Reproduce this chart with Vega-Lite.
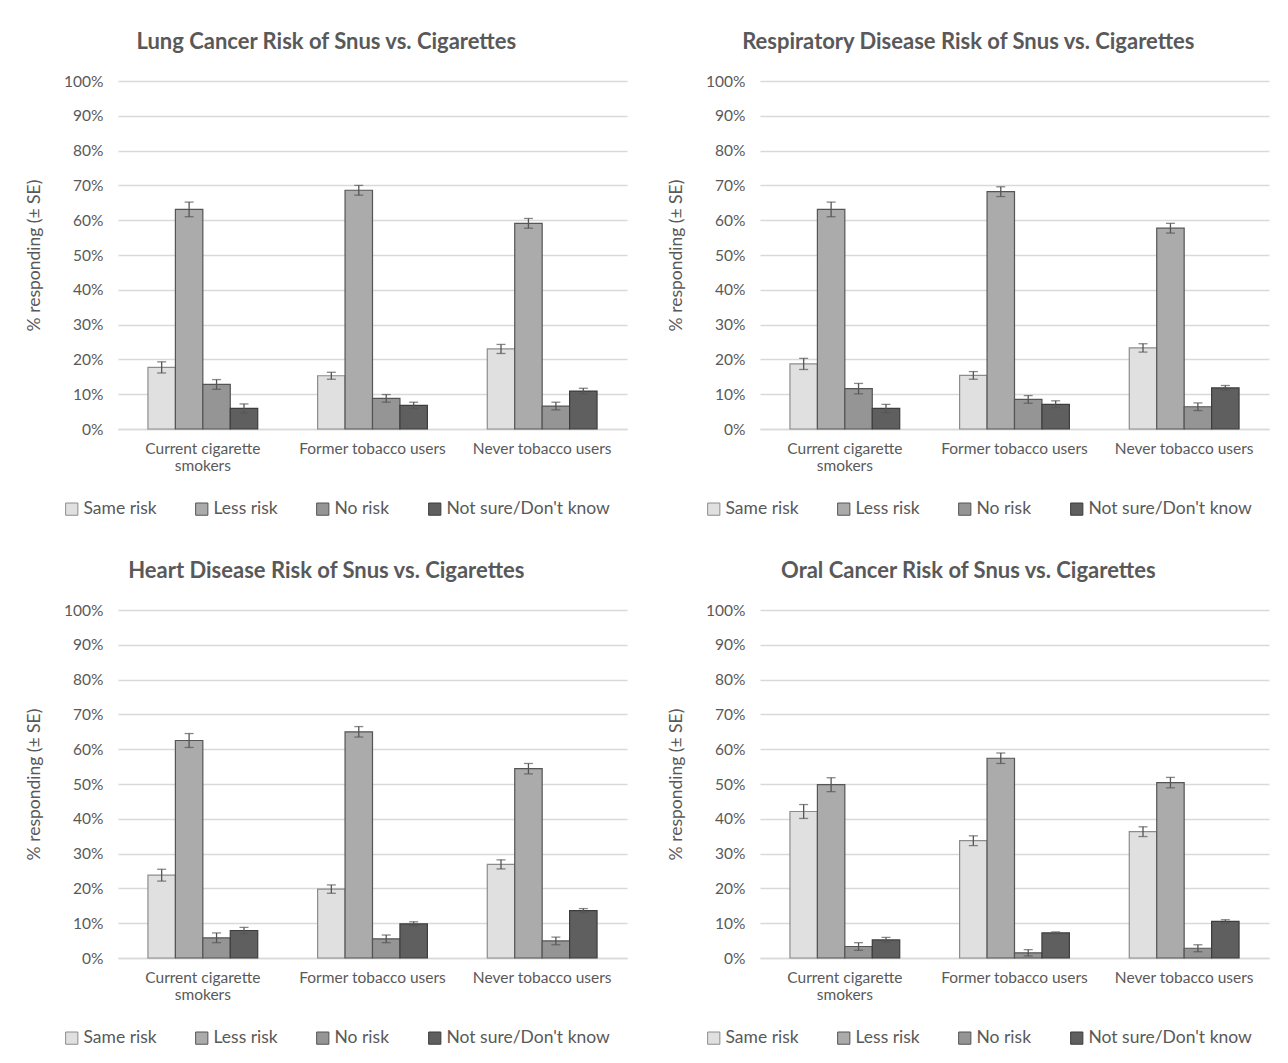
{
  "$schema": "https://vega.github.io/schema/vega-lite/v6.json",
  "background": "white",
  "padding": {"left": 25, "top": 31, "right": 10, "bottom": 10},
  "config": {
    "font": "Lato",
    "view": {"stroke": null},
    "title": {"fontSize": 22, "fontWeight": "bold", "color": "#595959", "anchor": "middle", "frame": "bounds", "offset": 20},
    "axis": {"labelFont": "Lato", "titleFont": "Lato", "labelColor": "#595959", "titleColor": "#595959", "labelFontSize": 15.5, "titleFontSize": 17.5, "titleFontWeight": "normal", "ticks": false},
    "axisY": {"grid": true, "gridColor": "#d9d9d9", "gridWidth": 1.3, "domain": false, "labelPadding": 15, "titlePadding": 20, "values": [0,10,20,30,40,50,60,70,80,90,100], "labelExpr": "datum.value + '%'", "labelOverlap": false},
    "axisX": {"grid": false, "domainColor": "#d9d9d9", "domainWidth": 1.3, "labelPadding": 12, "labelAngle": 0},
    "legend": {"orient": "none", "direction": "horizontal", "columns": 4, "legendX": -55, "legendY": 419, "symbolType": "square", "symbolSize": 150, "symbolStrokeWidth": 1, "labelFontSize": 17.5, "labelColor": "#595959", "labelFont": "Lato", "labelLimit": 400, "columnPadding": 36, "labelOffset": 3, "title": null}
  },
  "data": {"values": [
    {"p":"Lung","g":"Current cigarette smokers","r":"Same risk","v":17.7,"lo":16.1,"hi":19.3},
    {"p":"Lung","g":"Current cigarette smokers","r":"Less risk","v":63.1,"lo":61.0,"hi":65.2},
    {"p":"Lung","g":"Current cigarette smokers","r":"No risk","v":12.8,"lo":11.4,"hi":14.2},
    {"p":"Lung","g":"Current cigarette smokers","r":"Not sure/Don't know","v":5.9,"lo":4.6,"hi":7.2},
    {"p":"Lung","g":"Former tobacco users","r":"Same risk","v":15.3,"lo":14.3,"hi":16.3},
    {"p":"Lung","g":"Former tobacco users","r":"Less risk","v":68.6,"lo":67.2,"hi":70.0},
    {"p":"Lung","g":"Former tobacco users","r":"No risk","v":8.8,"lo":7.7,"hi":9.9},
    {"p":"Lung","g":"Former tobacco users","r":"Not sure/Don't know","v":6.8,"lo":5.9,"hi":7.7},
    {"p":"Lung","g":"Never tobacco users","r":"Same risk","v":23.0,"lo":21.7,"hi":24.3},
    {"p":"Lung","g":"Never tobacco users","r":"Less risk","v":59.1,"lo":57.7,"hi":60.5},
    {"p":"Lung","g":"Never tobacco users","r":"No risk","v":6.6,"lo":5.5,"hi":7.7},
    {"p":"Lung","g":"Never tobacco users","r":"Not sure/Don't know","v":10.9,"lo":10.1,"hi":11.7},

    {"p":"Resp","g":"Current cigarette smokers","r":"Same risk","v":18.7,"lo":17.1,"hi":20.3},
    {"p":"Resp","g":"Current cigarette smokers","r":"Less risk","v":63.1,"lo":61.0,"hi":65.2},
    {"p":"Resp","g":"Current cigarette smokers","r":"No risk","v":11.6,"lo":10.1,"hi":13.1},
    {"p":"Resp","g":"Current cigarette smokers","r":"Not sure/Don't know","v":5.9,"lo":4.7,"hi":7.1},
    {"p":"Resp","g":"Former tobacco users","r":"Same risk","v":15.4,"lo":14.3,"hi":16.5},
    {"p":"Resp","g":"Former tobacco users","r":"Less risk","v":68.2,"lo":66.8,"hi":69.6},
    {"p":"Resp","g":"Former tobacco users","r":"No risk","v":8.5,"lo":7.4,"hi":9.6},
    {"p":"Resp","g":"Former tobacco users","r":"Not sure/Don't know","v":7.1,"lo":6.1,"hi":8.1},
    {"p":"Resp","g":"Never tobacco users","r":"Same risk","v":23.3,"lo":22.1,"hi":24.5},
    {"p":"Resp","g":"Never tobacco users","r":"Less risk","v":57.7,"lo":56.3,"hi":59.1},
    {"p":"Resp","g":"Never tobacco users","r":"No risk","v":6.4,"lo":5.3,"hi":7.5},
    {"p":"Resp","g":"Never tobacco users","r":"Not sure/Don't know","v":11.8,"lo":11.1,"hi":12.5},

    {"p":"Heart","g":"Current cigarette smokers","r":"Same risk","v":23.8,"lo":22.1,"hi":25.5},
    {"p":"Heart","g":"Current cigarette smokers","r":"Less risk","v":62.5,"lo":60.5,"hi":64.5},
    {"p":"Heart","g":"Current cigarette smokers","r":"No risk","v":5.8,"lo":4.4,"hi":7.2},
    {"p":"Heart","g":"Current cigarette smokers","r":"Not sure/Don't know","v":7.9,"lo":7.0,"hi":8.8},
    {"p":"Heart","g":"Former tobacco users","r":"Same risk","v":19.8,"lo":18.6,"hi":21.0},
    {"p":"Heart","g":"Former tobacco users","r":"Less risk","v":65.0,"lo":63.5,"hi":66.5},
    {"p":"Heart","g":"Former tobacco users","r":"No risk","v":5.5,"lo":4.4,"hi":6.6},
    {"p":"Heart","g":"Former tobacco users","r":"Not sure/Don't know","v":9.8,"lo":9.2,"hi":10.4},
    {"p":"Heart","g":"Never tobacco users","r":"Same risk","v":26.9,"lo":25.6,"hi":28.2},
    {"p":"Heart","g":"Never tobacco users","r":"Less risk","v":54.4,"lo":52.9,"hi":55.9},
    {"p":"Heart","g":"Never tobacco users","r":"No risk","v":4.9,"lo":3.8,"hi":6.0},
    {"p":"Heart","g":"Never tobacco users","r":"Not sure/Don't know","v":13.6,"lo":13.0,"hi":14.2},

    {"p":"Oral","g":"Current cigarette smokers","r":"Same risk","v":42.1,"lo":40.1,"hi":44.1},
    {"p":"Oral","g":"Current cigarette smokers","r":"Less risk","v":49.8,"lo":47.8,"hi":51.8},
    {"p":"Oral","g":"Current cigarette smokers","r":"No risk","v":3.3,"lo":2.2,"hi":4.4},
    {"p":"Oral","g":"Current cigarette smokers","r":"Not sure/Don't know","v":5.2,"lo":4.5,"hi":5.9},
    {"p":"Oral","g":"Former tobacco users","r":"Same risk","v":33.7,"lo":32.3,"hi":35.1},
    {"p":"Oral","g":"Former tobacco users","r":"Less risk","v":57.4,"lo":55.9,"hi":58.9},
    {"p":"Oral","g":"Former tobacco users","r":"No risk","v":1.5,"lo":0.6,"hi":2.4},
    {"p":"Oral","g":"Former tobacco users","r":"Not sure/Don't know","v":7.2,"lo":6.9,"hi":7.5},
    {"p":"Oral","g":"Never tobacco users","r":"Same risk","v":36.3,"lo":34.9,"hi":37.7},
    {"p":"Oral","g":"Never tobacco users","r":"Less risk","v":50.4,"lo":48.9,"hi":51.9},
    {"p":"Oral","g":"Never tobacco users","r":"No risk","v":2.8,"lo":1.8,"hi":3.8},
    {"p":"Oral","g":"Never tobacco users","r":"Not sure/Don't know","v":10.5,"lo":10.0,"hi":11.0}
  ]},
  "columns": 2,
  "spacing": {"row": 42, "column": 40},
  "resolve": {"legend": {"fill": "independent", "stroke": "independent"}},
  "concat": [
    {
      "title": "Lung Cancer Risk of Snus vs. Cigarettes",
      "width": 509, "height": 348,
      "transform": [{"filter": "datum.p == 'Lung'"}],
      "encoding": {
        "x": {"field": "g", "type": "nominal", "sort": ["Current cigarette smokers", "Former tobacco users", "Never tobacco users"], "scale": {"paddingInner": 0.353, "paddingOuter": 0.1765}, "axis": {"title": null, "labelExpr": "datum.value == 'Current cigarette smokers' ? ['Current cigarette', 'smokers'] : datum.value", "labelLineHeight": 17}},
        "xOffset": {"field": "r", "type": "nominal", "sort": ["Same risk", "Less risk", "No risk", "Not sure/Don't know"], "scale": {"paddingInner": 0, "paddingOuter": 0}}
      },
      "layer": [
        {"mark": {"type": "bar", "strokeWidth": 1.2}, "encoding": {
          "y": {"field": "v", "type": "quantitative", "scale": {"domain": [0, 100]}, "title": "% responding (± SE)"},
          "fill": {"field": "r", "type": "nominal", "sort": ["Same risk", "Less risk", "No risk", "Not sure/Don't know"], "scale": {"domain": ["Same risk", "Less risk", "No risk", "Not sure/Don't know"], "range": ["#e0e0e0", "#ababab", "#959595", "#5f5f5f"]}},
          "stroke": {"field": "r", "type": "nominal", "sort": ["Same risk", "Less risk", "No risk", "Not sure/Don't know"], "scale": {"domain": ["Same risk", "Less risk", "No risk", "Not sure/Don't know"], "range": ["#8c8c8c", "#555555", "#555555", "#3d3d3d"]}}
        }},
        {"mark": {"type": "rule", "color": "#555555", "strokeWidth": 1.3}, "encoding": {"y": {"field": "lo", "type": "quantitative", "title": "% responding (± SE)"}, "y2": {"field": "hi"}}},
        {"mark": {"type": "tick", "color": "#555555", "size": 9, "thickness": 1.3}, "encoding": {"y": {"field": "lo", "type": "quantitative", "title": "% responding (± SE)"}}},
        {"mark": {"type": "tick", "color": "#555555", "size": 9, "thickness": 1.3}, "encoding": {"y": {"field": "hi", "type": "quantitative", "title": "% responding (± SE)"}}}
      ]
    },
    {
      "title": "Respiratory Disease Risk of Snus vs. Cigarettes",
      "width": 509, "height": 348,
      "transform": [{"filter": "datum.p == 'Resp'"}],
      "encoding": {
        "x": {"field": "g", "type": "nominal", "sort": ["Current cigarette smokers", "Former tobacco users", "Never tobacco users"], "scale": {"paddingInner": 0.353, "paddingOuter": 0.1765}, "axis": {"title": null, "labelExpr": "datum.value == 'Current cigarette smokers' ? ['Current cigarette', 'smokers'] : datum.value", "labelLineHeight": 17}},
        "xOffset": {"field": "r", "type": "nominal", "sort": ["Same risk", "Less risk", "No risk", "Not sure/Don't know"], "scale": {"paddingInner": 0, "paddingOuter": 0}}
      },
      "layer": [
        {"mark": {"type": "bar", "strokeWidth": 1.2}, "encoding": {
          "y": {"field": "v", "type": "quantitative", "scale": {"domain": [0, 100]}, "title": "% responding (± SE)"},
          "fill": {"field": "r", "type": "nominal", "sort": ["Same risk", "Less risk", "No risk", "Not sure/Don't know"], "scale": {"domain": ["Same risk", "Less risk", "No risk", "Not sure/Don't know"], "range": ["#e0e0e0", "#ababab", "#959595", "#5f5f5f"]}},
          "stroke": {"field": "r", "type": "nominal", "sort": ["Same risk", "Less risk", "No risk", "Not sure/Don't know"], "scale": {"domain": ["Same risk", "Less risk", "No risk", "Not sure/Don't know"], "range": ["#8c8c8c", "#555555", "#555555", "#3d3d3d"]}}
        }},
        {"mark": {"type": "rule", "color": "#555555", "strokeWidth": 1.3}, "encoding": {"y": {"field": "lo", "type": "quantitative", "title": "% responding (± SE)"}, "y2": {"field": "hi"}}},
        {"mark": {"type": "tick", "color": "#555555", "size": 9, "thickness": 1.3}, "encoding": {"y": {"field": "lo", "type": "quantitative", "title": "% responding (± SE)"}}},
        {"mark": {"type": "tick", "color": "#555555", "size": 9, "thickness": 1.3}, "encoding": {"y": {"field": "hi", "type": "quantitative", "title": "% responding (± SE)"}}}
      ]
    },
    {
      "title": "Heart Disease Risk of Snus vs. Cigarettes",
      "width": 509, "height": 348,
      "transform": [{"filter": "datum.p == 'Heart'"}],
      "encoding": {
        "x": {"field": "g", "type": "nominal", "sort": ["Current cigarette smokers", "Former tobacco users", "Never tobacco users"], "scale": {"paddingInner": 0.353, "paddingOuter": 0.1765}, "axis": {"title": null, "labelExpr": "datum.value == 'Current cigarette smokers' ? ['Current cigarette', 'smokers'] : datum.value", "labelLineHeight": 17}},
        "xOffset": {"field": "r", "type": "nominal", "sort": ["Same risk", "Less risk", "No risk", "Not sure/Don't know"], "scale": {"paddingInner": 0, "paddingOuter": 0}}
      },
      "layer": [
        {"mark": {"type": "bar", "strokeWidth": 1.2}, "encoding": {
          "y": {"field": "v", "type": "quantitative", "scale": {"domain": [0, 100]}, "title": "% responding (± SE)"},
          "fill": {"field": "r", "type": "nominal", "sort": ["Same risk", "Less risk", "No risk", "Not sure/Don't know"], "scale": {"domain": ["Same risk", "Less risk", "No risk", "Not sure/Don't know"], "range": ["#e0e0e0", "#ababab", "#959595", "#5f5f5f"]}},
          "stroke": {"field": "r", "type": "nominal", "sort": ["Same risk", "Less risk", "No risk", "Not sure/Don't know"], "scale": {"domain": ["Same risk", "Less risk", "No risk", "Not sure/Don't know"], "range": ["#8c8c8c", "#555555", "#555555", "#3d3d3d"]}}
        }},
        {"mark": {"type": "rule", "color": "#555555", "strokeWidth": 1.3}, "encoding": {"y": {"field": "lo", "type": "quantitative", "title": "% responding (± SE)"}, "y2": {"field": "hi"}}},
        {"mark": {"type": "tick", "color": "#555555", "size": 9, "thickness": 1.3}, "encoding": {"y": {"field": "lo", "type": "quantitative", "title": "% responding (± SE)"}}},
        {"mark": {"type": "tick", "color": "#555555", "size": 9, "thickness": 1.3}, "encoding": {"y": {"field": "hi", "type": "quantitative", "title": "% responding (± SE)"}}}
      ]
    },
    {
      "title": "Oral Cancer Risk of Snus vs. Cigarettes",
      "width": 509, "height": 348,
      "transform": [{"filter": "datum.p == 'Oral'"}],
      "encoding": {
        "x": {"field": "g", "type": "nominal", "sort": ["Current cigarette smokers", "Former tobacco users", "Never tobacco users"], "scale": {"paddingInner": 0.353, "paddingOuter": 0.1765}, "axis": {"title": null, "labelExpr": "datum.value == 'Current cigarette smokers' ? ['Current cigarette', 'smokers'] : datum.value", "labelLineHeight": 17}},
        "xOffset": {"field": "r", "type": "nominal", "sort": ["Same risk", "Less risk", "No risk", "Not sure/Don't know"], "scale": {"paddingInner": 0, "paddingOuter": 0}}
      },
      "layer": [
        {"mark": {"type": "bar", "strokeWidth": 1.2}, "encoding": {
          "y": {"field": "v", "type": "quantitative", "scale": {"domain": [0, 100]}, "title": "% responding (± SE)"},
          "fill": {"field": "r", "type": "nominal", "sort": ["Same risk", "Less risk", "No risk", "Not sure/Don't know"], "scale": {"domain": ["Same risk", "Less risk", "No risk", "Not sure/Don't know"], "range": ["#e0e0e0", "#ababab", "#959595", "#5f5f5f"]}},
          "stroke": {"field": "r", "type": "nominal", "sort": ["Same risk", "Less risk", "No risk", "Not sure/Don't know"], "scale": {"domain": ["Same risk", "Less risk", "No risk", "Not sure/Don't know"], "range": ["#8c8c8c", "#555555", "#555555", "#3d3d3d"]}}
        }},
        {"mark": {"type": "rule", "color": "#555555", "strokeWidth": 1.3}, "encoding": {"y": {"field": "lo", "type": "quantitative", "title": "% responding (± SE)"}, "y2": {"field": "hi"}}},
        {"mark": {"type": "tick", "color": "#555555", "size": 9, "thickness": 1.3}, "encoding": {"y": {"field": "lo", "type": "quantitative", "title": "% responding (± SE)"}}},
        {"mark": {"type": "tick", "color": "#555555", "size": 9, "thickness": 1.3}, "encoding": {"y": {"field": "hi", "type": "quantitative", "title": "% responding (± SE)"}}}
      ]
    }
  ]
}
